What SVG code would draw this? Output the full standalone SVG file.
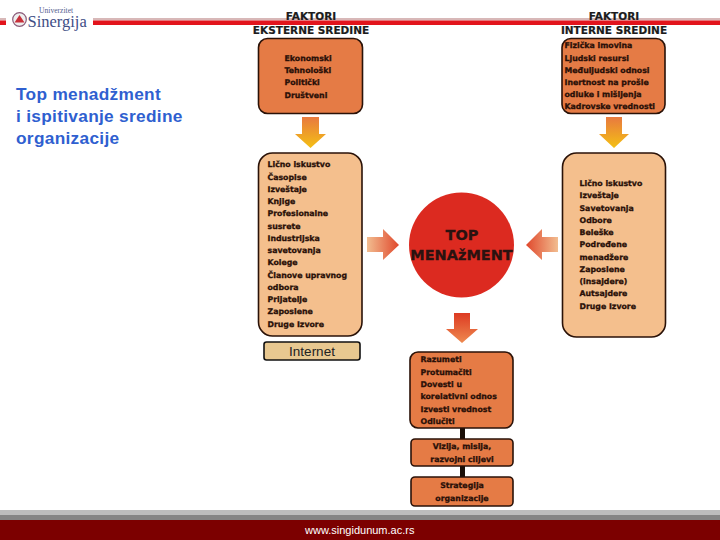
<svg xmlns="http://www.w3.org/2000/svg" width="720" height="540" viewBox="0 0 720 540">
<style>
.t{font-family:"DejaVu Sans",sans-serif;font-weight:700;font-size:7.8px;fill:#2a1008;stroke:#2a1008;stroke-width:.3}
.h{font-family:"DejaVu Sans",sans-serif;font-weight:700;font-size:10.5px;fill:#1c1c1c;stroke:#1c1c1c;stroke-width:.2}
.m{text-anchor:middle}
.o{fill:#e57b45;stroke:#2a1208;stroke-width:1.6}
.p{fill:#f4bf8d;stroke:#2a1208;stroke-width:1.6}
.tt{font-family:"Liberation Sans",sans-serif;font-weight:700;font-size:17.300px;letter-spacing:.3px;fill:#2f5fd0}
.b{font-family:"DejaVu Sans",sans-serif;font-weight:700;font-size:14.500px;text-anchor:middle;fill:#2a1210;stroke:#2a1210;stroke-width:.3}
</style>
<defs>
<linearGradient id="gd" x1="0" y1="0" x2="0" y2="1"><stop offset="0" stop-color="#e8793f"/><stop offset="1" stop-color="#f4c014"/></linearGradient>
<linearGradient id="gr" x1="0" y1="0" x2="1" y2="0"><stop offset="0" stop-color="#f2bd90"/><stop offset="1" stop-color="#e0482c"/></linearGradient>
<linearGradient id="gl" x1="1" y1="0" x2="0" y2="0"><stop offset="0" stop-color="#f2bd90"/><stop offset="1" stop-color="#e0482c"/></linearGradient>
<linearGradient id="gb" x1="0" y1="0" x2="0" y2="1"><stop offset="0" stop-color="#dd3a22"/><stop offset="1" stop-color="#ee8a50"/></linearGradient>
</defs>
<rect width="720" height="540" fill="#fff"/>
<g id="header">
<rect x="0" y="18" width="6" height="2.500" fill="#d8b8b8"/><rect x="0" y="20.500" width="6" height="4.500" fill="#e2141c"/>
<rect x="93" y="18" width="627" height="2.500" fill="#d8b8b8"/><rect x="93" y="20.500" width="627" height="4.500" fill="#e2141c"/>
<circle cx="19.500" cy="19.500" r="6.800" fill="#eee" stroke="#8a5a78" stroke-width="1.200"/>
<path d="M19.500 15l5 7.500h-10z" fill="#c8303a"/>
<text x="39" y="12.500" font-family="Liberation Serif,serif" font-size="7.600" fill="#55608f">Univerzitet</text>
<text x="27.500" y="27" font-family="Liberation Serif,serif" font-size="16.500" fill="#414e86">Sinergija</text>
</g>
<g id="title"><text class="tt" x="16" y="100">Top menadžment</text><text class="tt" x="16" y="122">i ispitivanje sredine</text><text class="tt" x="16" y="143.500">organizacije</text></g>
<g id="connectors">
<rect x="460" y="427" width="5" height="13" fill="#1a0f08"/><rect x="460" y="465" width="5" height="13" fill="#1a0f08"/>
<path d="M302 117h17v17h7l-15.500 14-15.500-14h7z" fill="url(#gd)"/>
<path d="M606 117h16v17h7l-15 14-15-14h7z" fill="url(#gd)"/>
<path d="M367 237h16v-8l16 16-16 15v-8h-16z" fill="url(#gr)"/>
<path d="M558 237h-16v-8l-16 16 16 15v-8h16z" fill="url(#gl)"/>
<path d="M454 313h16v16h8l-16 14-16-14h8z" fill="url(#gb)"/>
</g>
<g id="faktori-eksterne"><text class="h m" x="311" y="19.500">FAKTORI</text><text class="h m" x="311" y="34">EKSTERNE SREDINE</text></g>
<g id="faktori-interne"><text class="h m" x="614" y="19.500">FAKTORI</text><text class="h m" x="614" y="34">INTERNE SREDINE</text></g>
<g id="ekst"><rect class="o" x="258.500" y="38.500" width="104" height="75" rx="9"/>
<text class="t" x="284.500" y="61">Ekonomski</text><text class="t" x="284.500" y="73">Tehnološki</text><text class="t" x="284.500" y="85">Politički</text><text class="t" x="284.500" y="97.500">Društveni</text></g>
<g id="int"><rect class="o" x="562" y="38.500" width="103" height="75" rx="9"/>
<text class="t" x="564.500" y="48">Fizička imovina</text><text class="t" x="564.500" y="60.500">Ljudski resursi</text><text class="t" x="564.500" y="72.500">Međuljudski odnosi</text><text class="t" x="564.500" y="85">Inertnost na prošle</text><text class="t" x="564.500" y="97">odluke i mišljenja</text><text class="t" x="564.500" y="109">Kadrovske vrednosti</text></g>
<g id="izvori-ekst"><rect class="p" x="258.500" y="153" width="103.500" height="183" rx="14"/>
<text class="t" x="267.500" y="167">Lično iskustvo</text><text class="t" x="267.500" y="179.500">Časopise</text><text class="t" x="267.500" y="191.500">Izveštaje</text><text class="t" x="267.500" y="204">Knjige</text><text class="t" x="267.500" y="216">Profesionalne</text><text class="t" x="267.500" y="228.500">susrete</text><text class="t" x="267.500" y="240.500">Industrijska</text><text class="t" x="267.500" y="253">savetovanja</text><text class="t" x="267.500" y="265">Kolege</text><text class="t" x="267.500" y="277.500">Članove upravnog</text><text class="t" x="267.500" y="289.500">odbora</text><text class="t" x="267.500" y="302">Prijatelje</text><text class="t" x="267.500" y="314">Zaposlene</text><text class="t" x="267.500" y="327">Druge Izvore</text></g>
<g id="internet"><rect x="264" y="342" width="96" height="18" rx="2.500" fill="#e8c890" stroke="#111" stroke-width="1.600"/>
<text class="m" x="312" y="356" font-family="Liberation Sans,sans-serif" font-size="13.500" fill="#222">Internet</text></g>
<g id="izvori-int"><rect class="p" x="562.500" y="153" width="103" height="184" rx="14"/>
<text class="t" x="579.500" y="186">Lično iskustvo</text><text class="t" x="579.500" y="198">Izveštaje</text><text class="t" x="579.500" y="210.500">Savetovanja</text><text class="t" x="579.500" y="222.500">Odbore</text><text class="t" x="579.500" y="235">Beleške</text><text class="t" x="579.500" y="247">Podređene</text><text class="t" x="579.500" y="259.500">menadžere</text><text class="t" x="579.500" y="271.500">Zaposlene</text><text class="t" x="579.500" y="284">(insajdere)</text><text class="t" x="579.500" y="296">Autsajdere</text><text class="t" x="579.500" y="308.500">Druge Izvore</text></g>
<g id="top"><circle cx="461.500" cy="245" r="52.500" fill="#dc2a20"/>
<text class="b" x="462" y="239.500">TOP</text>
<text class="b" x="461.500" y="260">MENAžMENT</text></g>
<g id="razumeti"><rect class="o" x="410" y="352" width="103" height="76" rx="8"/>
<text class="t" x="420.500" y="362">Razumeti</text><text class="t" x="420.500" y="374.500">Protumačiti</text><text class="t" x="420.500" y="387">Dovesti u</text><text class="t" x="420.500" y="399">korelativni odnos</text><text class="t" x="420.500" y="411.500">Izvesti vrednost</text><text class="t" x="420.500" y="424">Odlučiti</text></g>
<g id="vizija"><rect class="o" x="411" y="439" width="102" height="27" rx="4"/>
<text class="t m" x="462" y="449">Vizija, misija,</text><text class="t m" x="462" y="461.500">razvojni ciljevi</text></g>
<g id="strategija"><rect class="o" x="411" y="477" width="102" height="29" rx="4"/>
<text class="t m" x="462" y="488">Strategija</text><text class="t m" x="462" y="500.500">organizacije</text></g>
<g id="footer"><rect y="510" width="720" height="5" fill="#bdbdbd"/><rect y="515" width="720" height="5" fill="#858585"/><rect y="520" width="720" height="20" fill="#7c0000"/>
<text x="305" y="534" font-family="Liberation Sans,sans-serif" font-size="11" fill="#fff">www.singidunum.ac.rs</text></g>
</svg>
